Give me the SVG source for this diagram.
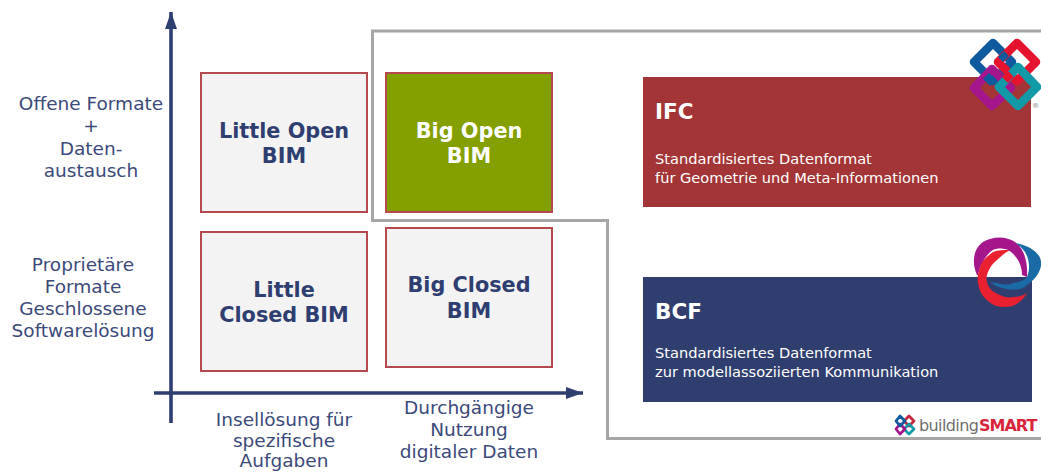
<svg xmlns="http://www.w3.org/2000/svg" width="1041" height="472" viewBox="0 0 1041 472">
<style>
text{font-family:"DejaVu Sans",Verdana,sans-serif}
.lbl{font-size:18.500px;fill:#3b4a7a;text-anchor:middle}
.cell{fill:#f3f3f3;stroke:#b54a4e;stroke-width:2}
.big{font-size:20.800px;font-weight:bold;fill:#2f3e70;text-anchor:middle}
.t{font-size:21.500px;font-weight:bold;fill:#fff}
.s{font-size:14.600px;fill:#fff}
.ax{stroke:#2f3e70;stroke-width:3.600;fill:none}
.ring{fill:none;stroke-width:8.500;stroke-linejoin:round}
.mini{fill:none;stroke-width:2.800;stroke-linejoin:round}
</style>
<defs>
<marker id="ah" markerUnits="userSpaceOnUse" markerWidth="18" markerHeight="13" refX="17" refY="6" orient="auto" viewBox="0 0 18 12"><path d="M0 0L17 6L0 12Z" fill="#2f3e70"/></marker>
</defs>
<g id="frame"><path d="M1041 31H372.500V220.500H607.500V438.500H1041" fill="none" stroke="#a6a6a6" stroke-width="3"/></g>
<g id="connectors">
<path class="ax" d="M171 423V12" marker-end="url(#ah)"/>
<path class="ax" d="M154 393H583" marker-end="url(#ah)"/>
</g>
<g id="y-top"><text class="lbl" x="91" y="110">Offene Formate</text><text class="lbl" x="91" y="132">+</text><text class="lbl" x="91" y="155">Daten-</text><text class="lbl" x="91" y="177">austausch</text></g>
<g id="y-bottom"><text class="lbl" x="83" y="271">Proprietäre</text><text class="lbl" x="83" y="293">Formate</text><text class="lbl" x="83" y="315">Geschlossene</text><text class="lbl" x="83" y="337">Softwarelösung</text></g>
<g id="x-left"><text class="lbl" x="284" y="426">Insellösung für</text><text class="lbl" x="284" y="447">spezifische</text><text class="lbl" x="284" y="467">Aufgaben</text></g>
<g id="x-right"><text class="lbl" x="469" y="414">Durchgängige</text><text class="lbl" x="469" y="436">Nutzung</text><text class="lbl" x="469" y="458">digitaler Daten</text></g>
<g id="little-open"><rect class="cell" x="201" y="73" width="166" height="139"/><text class="big" x="284" y="138">Little Open</text><text class="big" x="284" y="163">BIM</text></g>
<g id="big-open"><rect x="386" y="73" width="166" height="139" fill="#84a000" stroke="#b54a4e" stroke-width="2"/><text class="big" x="469" y="138" style="fill:#fff">Big Open</text><text class="big" x="469" y="163" style="fill:#fff">BIM</text></g>
<g id="little-closed"><rect class="cell" x="201" y="232" width="166" height="139"/><text class="big" x="284" y="297">Little</text><text class="big" x="284" y="322">Closed BIM</text></g>
<g id="big-closed"><rect class="cell" x="386" y="228" width="166" height="139"/><text class="big" x="469" y="292">Big Closed</text><text class="big" x="469" y="318">BIM</text></g>
<g id="ifc"><rect x="643" y="77" width="388" height="130" fill="#a33536"/><text class="t" x="655" y="119">IFC</text><text class="s" x="655" y="164">Standardisiertes Datenformat</text><text class="s" x="655" y="183">für Geometrie und Meta-Informationen</text></g>
<g id="bcf"><rect x="643" y="277" width="389" height="125" fill="#2f3e6e"/><text class="t" x="655" y="319">BCF</text><text class="s" x="655" y="358">Standardisiertes Datenformat</text><text class="s" x="655" y="377">zur modellassoziierten Kommunikation</text></g>
<g id="ifc-logo">
<path class="ring" stroke="#0f5a9e" d="M993 43L1012 62L993 81L974 62Z"/>
<path class="ring" stroke="#e5132d" d="M1017 43L1036 62L1017 81L998 62Z"/>
<path class="ring" stroke="#a5168c" d="M992 69L1011 88L992 106L974 88Z"/>
<path class="ring" stroke="#1299a8" d="M1018 67L1037 87L1018 106L999 87Z"/>
<path d="M1001 54L1006 59" stroke="#0f5a9e" stroke-width="8.500" fill="none"/>
<path d="M986 76L993 83" stroke="#0f5a9e" stroke-width="8.500" fill="none"/>
<path d="M1011 74L1005 80" stroke="#e5132d" stroke-width="8.500" fill="none"/>
<text x="1032" y="108" style="font-size:7px;fill:#888">®</text>
</g>
<g id="bcf-logo">
<path fill="#a5168c" d="M977 275C971 262 974 248 983 242C993 236 1006 236 1015 242C1024 248 1028 262 1027 277L1022 275C1022 266 1018 256 1008 250C1003 248 997 248 993 250C986 254 980 266 978 275Z"/>
<path fill="#1a6aa5" d="M1015 243C1030 245 1041 254 1041 262C1042 270 1036 280 1023 288C1014 291 1000 290 990 282L997 283C1003 285 1009 285 1013 283C1020 282 1025 280 1027 277C1030 270 1030 260 1025 252C1022 248 1019 245 1015 243Z"/>
<path fill="#e8202f" d="M1010 250C1003 250 998 250 993 252C986 257 981 262 980 268C978 273 977 278 978 283C979 290 982 296 987 300C992 305 998 307 1003 307C1009 307 1014 306 1018 303C1022 300 1025 297 1027 293C1023 296 1018 297 1013 297C1008 298 1004 297 1000 295C995 293 990 290 988 285C986 280 986 276 988 272C990 267 993 263 997 260C1001 256 1006 252 1010 250Z"/>
</g>
<g id="buildingsmart-logo">
<path class="mini" stroke="#c4263d" d="M909 416L914 421L909 426L904 421Z"/>
<path class="mini" stroke="#1299a8" d="M909 424L914 429L909 434L904 429Z"/>
<path class="mini" stroke="#a5168c" d="M900 424L905 429L900 434L896 429Z"/>
<path class="mini" stroke="#0f5a9e" d="M900 416L905 421L900 426L896 421Z"/>
<text x="919" y="431" style="font-size:16px;fill:#6f6f6f;letter-spacing:-.6px">building</text>
<text x="979" y="431" style="font-size:16px;fill:#d9243c;font-weight:bold;letter-spacing:-1px">SMART</text>
</g>
</svg>
